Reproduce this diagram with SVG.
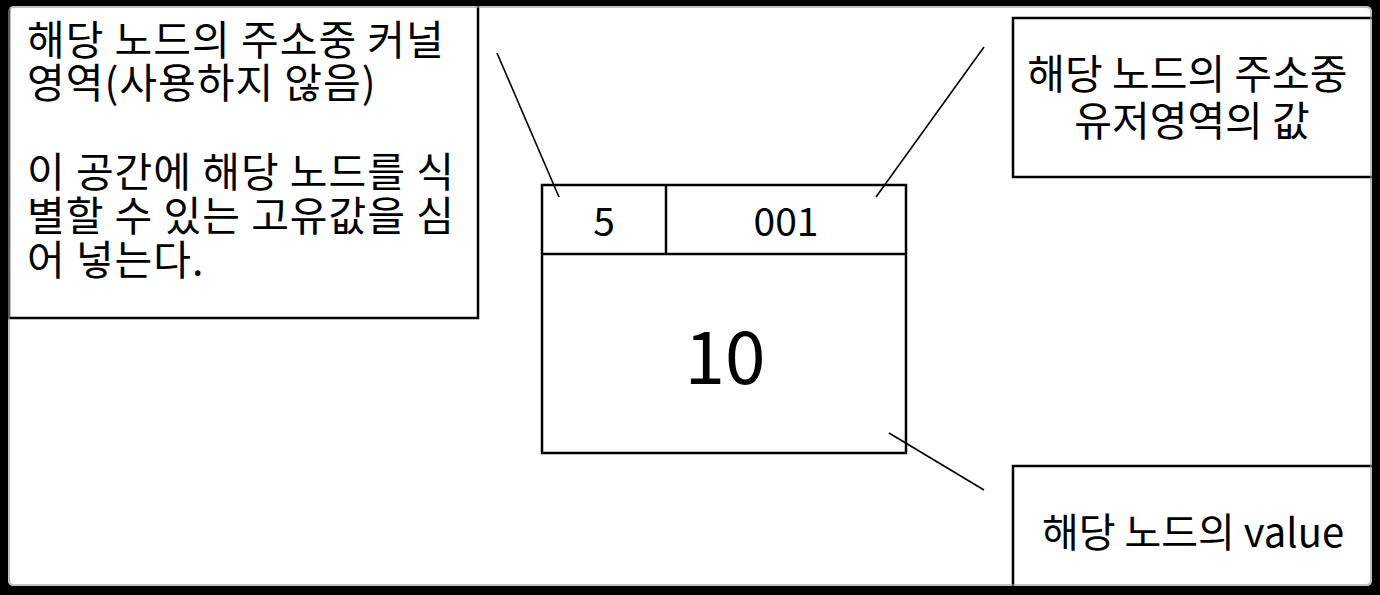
<svg xmlns="http://www.w3.org/2000/svg" width="1380" height="595" viewBox="0 0 1380 595">
<style>
.box{fill:#fff;stroke:#000;stroke-width:2.5}
.cell{fill:none;stroke:#000;stroke-width:2.5}
.ln{stroke:#000;stroke-width:1.6;fill:none}
.t{font-family:"Malgun Gothic","Noto Sans CJK KR","Noto Sans",sans-serif;fill:#000}
</style>
<rect x="0" y="0" width="1380" height="595" fill="#fff"/>
<g id="note-kernel">
<rect class="box" x="9" y="-5" width="469" height="323"/>
<text class="t" font-size="41" letter-spacing="1" x="27">
<tspan x="27" y="55">해당 노드의 주소중 커널</tspan>
<tspan x="27" y="98">영역(사용하지 않음)</tspan>
<tspan x="27" y="187">이 공간에 해당 노드를 식</tspan>
<tspan x="27" y="231">별할 수 있는 고유값을 심</tspan>
<tspan x="27" y="275">어 넣는다.</tspan>
</text>
</g>
<g id="note-user">
<rect class="box" x="1013" y="18" width="380" height="159"/>
<text class="t" font-size="41" text-anchor="middle">
<tspan x="1192" y="89">해당 노드의 주소중</tspan>
<tspan x="1192" y="136">유저영역의 값</tspan>
</text>
</g>
<g id="note-value">
<rect class="box" x="1013" y="466" width="380" height="140"/>
<text class="t" font-size="40" text-anchor="middle" x="1193" y="547">해당 노드의 value</text>
</g>
<g id="node">
<rect class="box" x="542" y="185" width="364" height="268"/>
<line class="cell" x1="542" y1="254" x2="906" y2="254"/>
<line class="cell" x1="666" y1="185" x2="666" y2="254"/>
<text class="t" font-size="39" text-anchor="middle" x="604" y="236">5</text>
<text class="t" font-size="39" text-anchor="middle" x="786" y="236">001</text>
<text class="t" font-size="73" text-anchor="middle" x="725" y="384">10</text>
</g>
<g id="connectors">
<line class="ln" x1="497" y1="53" x2="559" y2="197"/>
<line class="ln" x1="984" y1="47" x2="876" y2="197"/>
<line class="ln" x1="889" y1="433" x2="984" y2="490"/>
</g>
<g id="frame">
<path fill="#000" fill-rule="evenodd" d="M0 0H1380V595H0Z M14 6H1366Q1372 6 1372 12V580Q1372 586 1366 586H14Q8 586 8 580V12Q8 6 14 6Z"/>
<path fill="none" stroke="#999" stroke-width="2" d="M14 7H1366Q1371 7 1371 12V580Q1371 585 1366 585H14Q9 585 9 580V12Q9 7 14 7Z" opacity="0.6"/>
</g>
</svg>
